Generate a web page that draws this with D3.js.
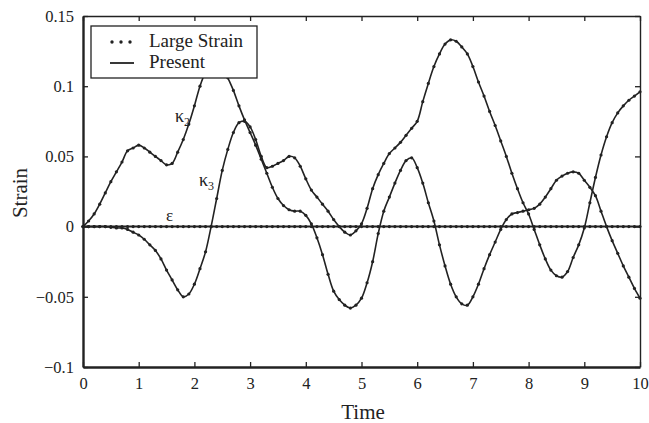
<!DOCTYPE html>
<html>
<head>
<meta charset="utf-8">
<script src="https://cdn.jsdelivr.net/npm/d3@7"></script>
<style>
  body { margin: 0; background: #fff; }
  svg text { font-family: "Liberation Serif", "Times New Roman", serif; fill: #222; }
</style>
</head>
<body>
<div id="chart"></div>
<script>
// strain samples every 0.1 s
var kappa2 = [
  0, 0.004, 0.009, 0.016, 0.024, 0.032, 0.039, 0.046, 0.054, 0.056,
  0.058, 0.056, 0.053, 0.050, 0.047, 0.044, 0.045, 0.053, 0.062, 0.073,
  0.086, 0.100, 0.110, 0.116, 0.118, 0.115, 0.106, 0.097, 0.086, 0.076,
  0.067, 0.058, 0.048, 0.038, 0.028, 0.020, 0.015, 0.012, 0.011, 0.011,
  0.008, 0.002, -0.008, -0.020, -0.034, -0.046, -0.052, -0.056, -0.058, -0.056,
  -0.051, -0.040, -0.025, -0.005, 0.011, 0.021, 0.031, 0.040, 0.047, 0.049,
  0.042, 0.031, 0.017, 0.004, -0.013, -0.028, -0.041, -0.050, -0.055, -0.056,
  -0.050, -0.041, -0.030, -0.020, -0.011, -0.002, 0.005, 0.009, 0.010, 0.011,
  0.012, 0.013, 0.016, 0.021, 0.027, 0.033, 0.036, 0.038, 0.039, 0.038,
  0.033, 0.028, 0.022, 0.011, 0.000, -0.010, -0.019, -0.028, -0.036, -0.044,
  -0.051
];
var kappa3 = [
  0, 0, 0, 0, 0, -0.0005, -0.001, -0.001, -0.002, -0.004,
  -0.006, -0.009, -0.013, -0.017, -0.023, -0.031, -0.038, -0.045, -0.050, -0.048,
  -0.041, -0.030, -0.018, 0.000, 0.020, 0.040, 0.055, 0.067, 0.074, 0.075,
  0.071, 0.062, 0.050, 0.042, 0.043, 0.045, 0.047, 0.050, 0.049, 0.043,
  0.034, 0.026, 0.021, 0.016, 0.011, 0.005, 0.000, -0.004, -0.006, -0.003,
  0.002, 0.013, 0.027, 0.037, 0.045, 0.052, 0.056, 0.060, 0.065, 0.070,
  0.075, 0.089, 0.102, 0.114, 0.123, 0.130, 0.133, 0.132, 0.128, 0.123,
  0.114, 0.103, 0.093, 0.082, 0.072, 0.061, 0.050, 0.038, 0.027, 0.017,
  0.009, -0.002, -0.013, -0.023, -0.031, -0.035, -0.036, -0.032, -0.022, -0.013,
  -0.001, 0.017, 0.035, 0.051, 0.064, 0.074, 0.081, 0.086, 0.090, 0.093,
  0.096
];
var epsilon = [
  0, 0, 0, 0, 0, 0, 0, 0, 0, 0,
  0, 0, 0, 0, 0, 0, 0, 0, 0, 0,
  0, 0, 0, 0, 0, 0, 0, 0, 0, 0,
  0, 0, 0, 0, 0, 0, 0, 0, 0, 0,
  0, 0, 0, 0, 0, 0, 0, 0, 0, 0,
  0, 0, 0, 0, 0, 0, 0, 0, 0, 0,
  0, 0, 0, 0, 0, 0, 0, 0, 0, 0,
  0, 0, 0, 0, 0, 0, 0, 0, 0, 0,
  0, 0, 0, 0, 0, 0, 0, 0, 0, 0,
  0, 0, 0, 0, 0, 0, 0, 0, 0, 0,
  0
];
var xTicks = [0, 1, 2, 3, 4, 5, 6, 7, 8, 9, 10];
var yTicks = [-0.1, -0.05, 0, 0.05, 0.1, 0.15];
var yTickLabels = ["\u22120.1", "\u22120.05", "0", "0.05", "0.1", "0.15"];
var legendNames = ["Large Strain", "Present"];

var W = 649, H = 423;
var mLeft = 83, mRight = 640, mTop = 16, mBottom = 367;

var xScale = d3.scaleLinear().domain([0, 10]).range([mLeft, mRight]);
var yScale = d3.scaleLinear().domain([-0.1, 0.15]).range([mBottom, mTop]);

var svg = d3.select("#chart").append("svg")
  .attr("width", W).attr("height", H);

// time of each sample
function toPoints(arr) {
  return arr.map(function(v, i) { return [i / 10, v]; });
}

var series = [
  {name: 'kappa2', pts: toPoints(kappa2)},
  {name: 'kappa3', pts: toPoints(kappa3)},
  {name: 'epsilon', pts: toPoints(epsilon)}
];

var lineGen = d3.line()
  .curve(d3.curveCatmullRom)
  .x(function(d) { return xScale(d[0]); })
  .y(function(d) { return yScale(d[1]); });

var plot = svg.append("g");

// "Present" : solid lines
plot.selectAll(".present")
  .data(series)
  .enter()
  .append("path")
  .attr("class", "present")
  .attr("d", function(d) { return lineGen(d.pts); })
  .attr("fill", "none")
  .attr("stroke", "#222")
  .attr("stroke-width", function(d) { return d.name == 'epsilon' ? 2 : 1.6; });

// "Large Strain" : dots
series.forEach(function(s) {
  plot.selectAll(".dot-" + s.name)
    .data(s.pts)
    .enter()
    .append("circle")
    .attr("class", "dot-" + s.name)
    .attr("cx", function(d) { return xScale(d[0]); })
    .attr("cy", function(d) { return yScale(d[1]); })
    .attr("r", 1.6)
    .attr("fill", "#222");
});

// axes (ticks inward on all four sides)
var tickLen = 5;
var xAxis = svg.append("g")
  .attr("transform", "translate(0," + mBottom + ")")
  .call(d3.axisBottom(xScale).tickValues(xTicks).tickSizeInner(-tickLen).tickSizeOuter(0).tickPadding(10).tickFormat(d3.format("d")));
var yAxis = svg.append("g")
  .attr("transform", "translate(" + mLeft + ",0)")
  .call(d3.axisLeft(yScale).tickValues(yTicks).tickSizeInner(-tickLen).tickSizeOuter(0).tickPadding(9)
    .tickFormat(function(d, i) { return yTickLabels[i]; }));
var xTop = svg.append("g")
  .attr("transform", "translate(0," + mTop + ")")
  .call(d3.axisTop(xScale).tickValues(xTicks).tickSizeInner(-tickLen).tickSizeOuter(0).tickFormat(""));
var yRight = svg.append("g")
  .attr("transform", "translate(" + mRight + ",0)")
  .call(d3.axisRight(yScale).tickValues(yTicks).tickSizeInner(-tickLen).tickSizeOuter(0).tickFormat(""));

[xAxis, yAxis].forEach(function(a) {
  a.select(".domain").attr("stroke", "#222").attr("stroke-width", 2.4);
  a.selectAll(".tick line").attr("stroke", "#222").attr("stroke-width", 1.3);
  a.selectAll(".tick text").attr("font-size", 16.5).attr("font-family", "Liberation Serif, serif").attr("fill", "#222");
});
[xTop, yRight].forEach(function(a) {
  a.select(".domain").attr("stroke", "#222").attr("stroke-width", 1.4);
  a.selectAll(".tick line").attr("stroke", "#222").attr("stroke-width", 1.3);
});

// axis titles
svg.append("text")
  .attr("x", 363).attr("y", 419)
  .attr("text-anchor", "middle").attr("font-size", 21)
  .text("Time");
svg.append("text")
  .attr("transform", "translate(27,193) rotate(-90)")
  .attr("text-anchor", "middle").attr("font-size", 21)
  .text("Strain");

// curve labels
var k2 = svg.append("text").attr("x", 175).attr("y", 122).attr("font-size", 18);
k2.append("tspan").text("\u03ba");
k2.append("tspan").attr("font-size", 12).attr("dy", 4).text("2");
var k3 = svg.append("text").attr("x", 199).attr("y", 186).attr("font-size", 18);
k3.append("tspan").text("\u03ba");
k3.append("tspan").attr("font-size", 12).attr("dy", 4).text("3");
svg.append("text").attr("x", 166).attr("y", 221).attr("font-size", 17).text("\u03b5");

// legend
var lg = svg.append("g");
lg.append("rect")
  .attr("x", 91).attr("y", 26).attr("width", 166).attr("height", 52)
  .attr("fill", "#fff").attr("stroke", "#222").attr("stroke-width", 1.3);
lg.selectAll(".ldot")
  .data([112, 121, 130])
  .enter()
  .append("circle")
  .attr("cx", function(d) { return d; })
  .attr("cy", 42)
  .attr("r", 1.7)
  .attr("fill", "#222");
lg.append("line")
  .attr("x1", 110).attr("x2", 134).attr("y1", 63).attr("y2", 63)
  .attr("stroke", "#222").attr("stroke-width", 1.8);
lg.selectAll(".ltext")
  .data(legendNames)
  .enter()
  .append("text")
  .attr("x", 149)
  .attr("y", function(d, i) { return 47 + i * 21; })
  .attr("font-size", 19)
  .text(function(d) { return d; });
</script>
</body>
</html>
